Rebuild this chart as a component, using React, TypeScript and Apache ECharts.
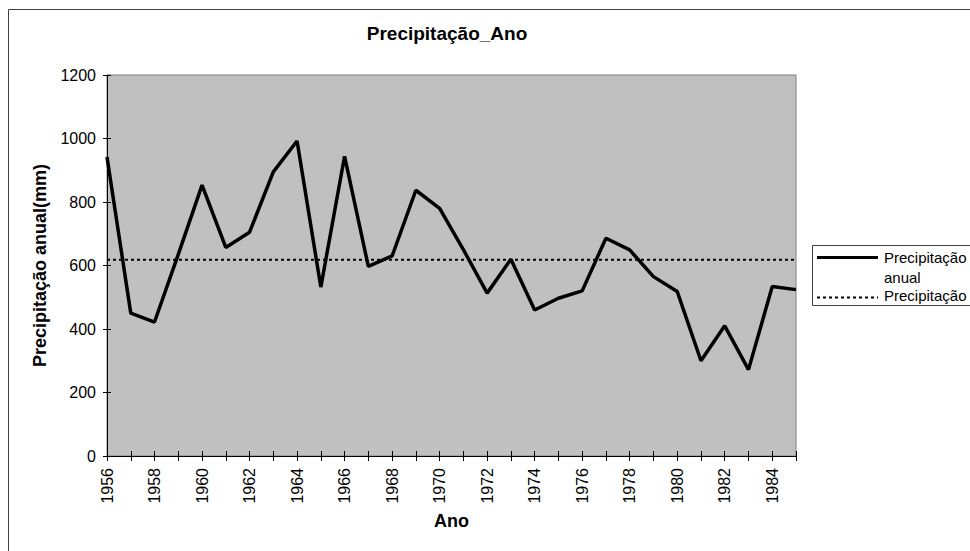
import React, { useEffect, useRef } from "react";
import * as echarts from "echarts";

const anos: string[] = [
  "1956", "1957", "1958", "1959", "1960", "1961", "1962", "1963", "1964", "1965",
  "1966", "1967", "1968", "1969", "1970", "1971", "1972", "1973", "1974", "1975",
  "1976", "1977", "1978", "1979", "1980", "1981", "1982", "1983", "1984", "1985",
];

const precipitacaoAnual: number[] = [
  942, 450, 422, 635, 853, 657, 705, 895, 992, 532,
  944, 597, 630, 837, 780, 650, 513, 620, 460, 497,
  520, 686, 649, 565, 518, 300, 410, 272, 534, 524,
];

const precipitacaoMedia: number[] = [
  618, 618, 618, 618, 618, 618, 618, 618, 618, 618,
  618, 618, 618, 618, 618, 618, 618, 618, 618, 618,
  618, 618, 618, 618, 618, 618, 618, 618, 618, 618,
];

const yMin = 0;
const yMax = 1200;
const yInterval = 200;

const FONT = "'Liberation Sans', Arial, sans-serif";

export default function App() {
  const ref = useRef<HTMLDivElement>(null);

  useEffect(() => {
    if (!ref.current) return;
    const chart = echarts.init(ref.current, null, { renderer: "svg" });
    const gridLeft = 107;
    const gridTop = 75;
    const gridWidth = 689;
    const gridHeight = 381;

    chart.setOption({
      animation: false,
      backgroundColor: "#ffffff",
      textStyle: { fontFamily: FONT, color: "#000" },
      title: {
        text: "Precipitação_Ano",
        left: 442,
        top: 19,
        textAlign: "center",
        textStyle: { fontFamily: FONT, fontSize: 19, fontWeight: "bold", color: "#000" },
      },
      grid: {
        left: gridLeft,
        top: gridTop,
        width: gridWidth,
        height: gridHeight,
        show: true,
        backgroundColor: "#c0c0c0",
        borderColor: "#808080",
        borderWidth: 1,
      },
      xAxis: [
        {
          type: "category",
          data: anos,
          position: "bottom",
          boundaryGap: false,
          name: "Ano",
          nameLocation: "middle",
          nameGap: 56,
          nameTextStyle: { fontFamily: FONT, fontSize: 18, fontWeight: "bold", color: "#000" },
          axisLine: { show: true, lineStyle: { color: "#000", width: 1 } },
          axisTick: { show: true, interval: 0, length: 5, lineStyle: { color: "#000" } },
          axisLabel: {
            interval: 1,
            rotate: 90,
            margin: 12,
            fontFamily: FONT,
            fontSize: 16,
            color: "#000",
          },
          splitLine: { show: false },
        },
        {
          type: "category",
          data: anos,
          position: "bottom",
          boundaryGap: false,
          axisLine: { show: false },
          axisTick: { show: true, inside: true, interval: 0, length: 5, lineStyle: { color: "#000" } },
          axisLabel: { show: false },
          splitLine: { show: false },
        },
      ],
      yAxis: [
        {
          type: "value",
          min: yMin,
          max: yMax,
          interval: yInterval,
          position: "left",
          name: "Precipitação anual(mm)",
          nameLocation: "middle",
          nameRotate: 90,
          nameGap: 58,
          nameTextStyle: { fontFamily: FONT, fontSize: 18, fontWeight: "bold", color: "#000" },
          axisLine: { show: true, lineStyle: { color: "#000", width: 1 } },
          axisTick: { show: true, length: 4, lineStyle: { color: "#000" } },
          axisLabel: {
            margin: 11,
            fontFamily: FONT,
            fontSize: 16,
            color: "#000",
            formatter: (v: number) => String(v),
          },
          splitLine: { show: false },
        },
        {
          type: "value",
          min: yMin,
          max: yMax,
          interval: yInterval,
          position: "left",
          axisLine: { show: false },
          axisTick: { show: true, inside: true, length: 4, lineStyle: { color: "#000" } },
          axisLabel: { show: false },
          splitLine: { show: false },
        },
      ],
      series: [
        {
          name: "Precipitação anual",
          type: "line",
          data: precipitacaoAnual,
          xAxisIndex: 0,
          yAxisIndex: 0,
          showSymbol: false,
          symbol: "none",
          lineStyle: { color: "#000", width: 3.5 },
          z: 3,
        },
        {
          name: "Precipitação",
          type: "line",
          data: precipitacaoMedia,
          xAxisIndex: 0,
          yAxisIndex: 0,
          showSymbol: false,
          symbol: "none",
          lineStyle: { color: "#000", width: 2, type: [3, 3] },
          z: 2,
        },
      ],
      graphic: [
        {
          type: "line",
          shape: { x1: 8.5, y1: 9.5, x2: 8.5, y2: 560 },
          style: { stroke: "#404040", lineWidth: 1 },
        },
        {
          type: "line",
          shape: { x1: 8.5, y1: 9.5, x2: 980, y2: 9.5 },
          style: { stroke: "#404040", lineWidth: 1 },
        },
        {
          type: "rect",
          shape: { x: 812.5, y: 245.5, width: 200, height: 60 },
          style: { fill: "#fff", stroke: "#404040", lineWidth: 1 },
        },
        {
          type: "line",
          shape: { x1: 817, y1: 257.5, x2: 878, y2: 257.5 },
          style: { stroke: "#000", lineWidth: 3 },
        },
        {
          type: "text",
          x: 884,
          y: 257,
          style: { text: "Precipitação", fontFamily: FONT, fontSize: 15, fill: "#000", verticalAlign: "middle", align: "left" },
        },
        {
          type: "text",
          x: 884,
          y: 277,
          style: { text: "anual", fontFamily: FONT, fontSize: 15, fill: "#000", verticalAlign: "middle", align: "left" },
        },
        {
          type: "line",
          shape: { x1: 817, y1: 297.5, x2: 878, y2: 297.5 },
          style: { stroke: "#000", lineWidth: 2, lineDash: [3, 3] },
        },
        {
          type: "text",
          x: 884,
          y: 295,
          style: { text: "Precipitação", fontFamily: FONT, fontSize: 15, fill: "#000", verticalAlign: "middle", align: "left" },
        },
      ],
    });
    return () => chart.dispose();
  }, []);

  return (
    <div
      ref={ref}
      style={{ position: "fixed", left: 0, top: 0, width: 970, height: 551, overflow: "hidden" }}
    />
  );
}
